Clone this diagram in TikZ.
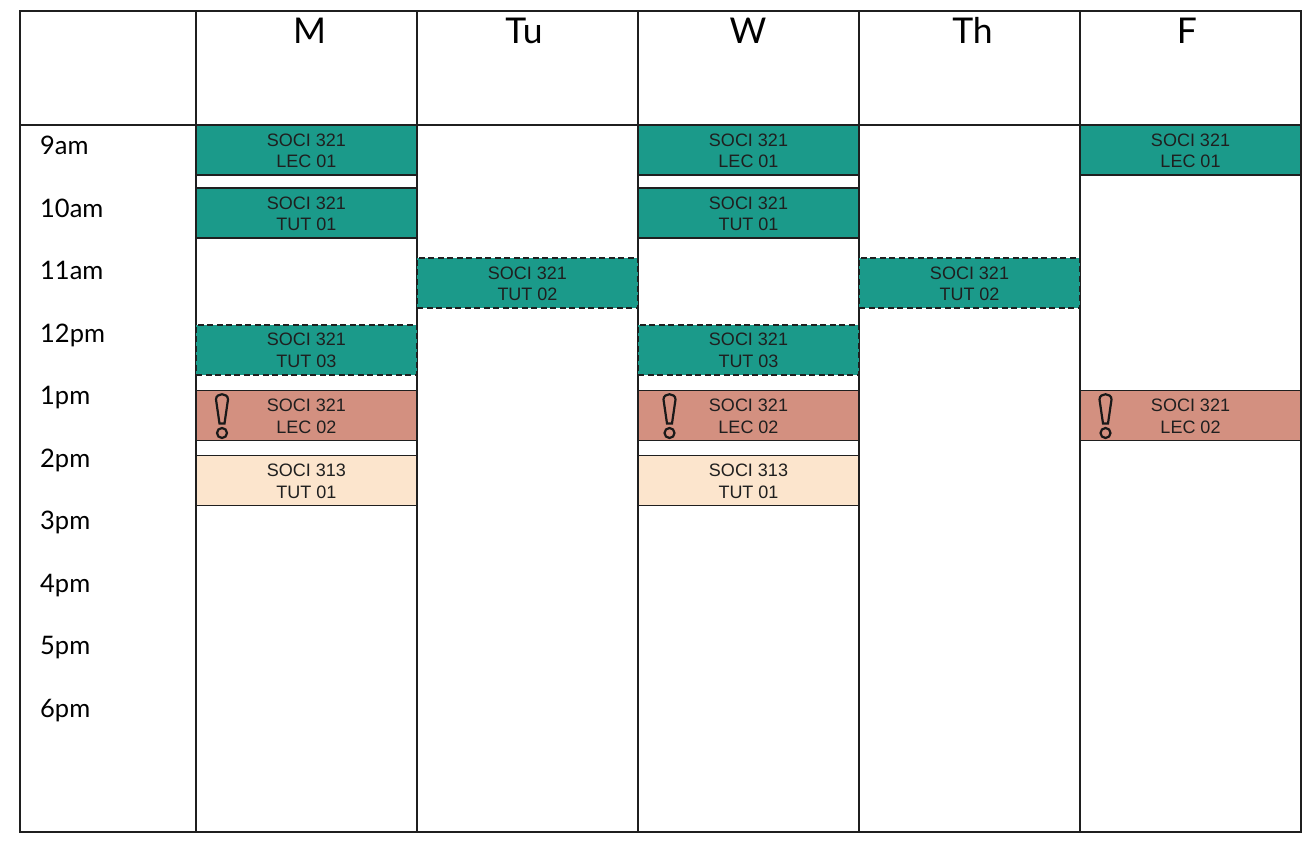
\documentclass[tikz,border=0pt]{standalone}
\usepackage{fontspec}
\setmainfont{Lato}
\newfontfamily\blockfont{Liberation Sans}
\definecolor{teal}{HTML}{1B9A8A}
\definecolor{salmon}{HTML}{D39080}
\definecolor{peach}{HTML}{FCE5CD}
\definecolor{ink}{HTML}{1F1F1F}
\tikzset{
  x=1pt,y=-1pt,
  gridline/.style={draw=ink,line width=2.2pt},
  dayhead/.style={font=\fontsize{35.5}{37}\selectfont,text=black,anchor=base,inner sep=0pt},
  hourlabel/.style={font=\fontsize{25.5}{27}\selectfont,text=black,anchor=base west,inner sep=0pt},
  block/.style={draw=ink,line width=1.9pt,minimum width=221pt,minimum height=50pt,inner sep=0pt,outer sep=0pt,anchor=north west},
  blocktext/.style={font=\blockfont\fontsize{18}{21.5}\selectfont,text=ink,align=center,inner sep=0pt},
  lec/.style={block,fill=teal},
  tut/.style={block,fill=teal,line width=2pt,dash pattern=on 6pt off 3.5pt},
  conflict/.style={block,fill=salmon},
  other/.style={block,fill=peach},
  bang/.style={draw=ink!80!black,line width=2.2pt},
}
\newcommand{\slot}[5]{% name, style, x, y, text
  \node[#2] (#1) at (#3,#4) {};
  \node[blocktext] (#1t) at (#3+110.5,#4+26) {#5};
}
\newcommand{\exclaim}[2]{%
  \draw[bang] (#1-6,#2+9) .. controls (#1-6,#2+2) and (#1+6,#2+2) .. (#1+6,#2+9)
     -- (#1+2.5,#2+33) -- (#1-2.5,#2+33) -- cycle;
  \draw[bang] (#1,#2+42.5) circle (5pt);
}
\begin{document}
\begin{tikzpicture}
\useasboundingbox (0,0) rectangle (1311,850);
\fill[white] (0,0) rectangle (1311,850);
\coordinate (tl) at (20,11);
\coordinate (br) at (1301,832);
\coordinate (h1) at (20,125);
\coordinate (h2) at (1301,125);
\foreach \n/\xx in {c1/196,c2/417,c3/638,c4/859,c5/1080}{
  \coordinate (\n t) at (\xx,11);
  \coordinate (\n b) at (\xx,832);
}

\draw[gridline] (tl) rectangle (br);
\draw[gridline] (h1) -- (h2);
\foreach \n in {c1,c2,c3,c4,c5}{\draw[gridline] (\n t) -- (\n b);}

\slot{a1}{lec}{196}{125}{SOCI 321\\LEC 01}
\slot{a2}{lec}{196}{188}{SOCI 321\\TUT 01}
\slot{a3}{tut}{196}{324.5}{SOCI 321\\TUT 03}
\slot{a4}{conflict}{196}{390.5}{SOCI 321\\LEC 02}
\slot{a5}{other}{196}{455.5}{SOCI 313\\TUT 01}
\slot{b1}{tut}{417}{258}{SOCI 321\\TUT 02}
\slot{c1x}{lec}{638}{125}{SOCI 321\\LEC 01}
\slot{c2x}{lec}{638}{188}{SOCI 321\\TUT 01}
\slot{c3x}{tut}{638}{324.5}{SOCI 321\\TUT 03}
\slot{c4x}{conflict}{638}{390.5}{SOCI 321\\LEC 02}
\slot{c5x}{other}{638}{455.5}{SOCI 313\\TUT 01}
\slot{d1}{tut}{859}{258}{SOCI 321\\TUT 02}
\slot{e1}{lec}{1080}{125}{SOCI 321\\LEC 01}
\slot{e2}{conflict}{1080}{390.5}{SOCI 321\\LEC 02}

\exclaim{222}{390.5}
\exclaim{669.5}{390.5}
\exclaim{1105.5}{390.5}

\node[dayhead] (dm) at (309.5,44) {M};
\node[dayhead] (dt) at (524,44) {Tu};
\node[dayhead] (dw) at (748,44) {W};
\node[dayhead] (dh) at (972.5,44) {Th};
\node[dayhead] (df) at (1187,44) {F};

\node[hourlabel] (t9) at (40,154.5) {9am};
\node[hourlabel] (t10) at (40,217.5) {10am};
\node[hourlabel] (t11) at (40,279.5) {11am};
\node[hourlabel] (t12) at (40,342.5) {12pm};
\node[hourlabel] (t1) at (40,404.5) {1pm};
\node[hourlabel] (t2) at (40,467.5) {2pm};
\node[hourlabel] (t3) at (40,529.5) {3pm};
\node[hourlabel] (t4) at (40,592.5) {4pm};
\node[hourlabel] (t5) at (40,654.5) {5pm};
\node[hourlabel] (t6) at (40,717.5) {6pm};
\end{tikzpicture}
\end{document}
